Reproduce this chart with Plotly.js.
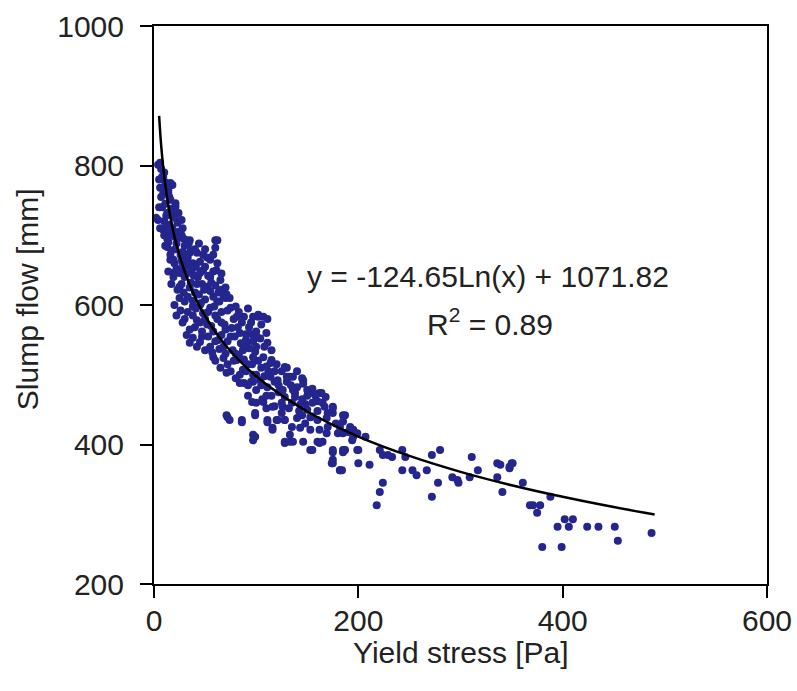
<!DOCTYPE html>
<html>
<head>
<meta charset="utf-8">
<script src="https://cdn.plot.ly/plotly-3.0.1.min.js"></script>
<style>html,body{margin:0;padding:0;background:#fff;}#chart{width:797px;height:691px;}</style>
</head>
<body>
<div id="chart"></div>
<script>
// Scatter data: yield stress [Pa] and slump flow [mm]
const yieldStress = [
  2,6,4,9,11,18,14,16,21,13,4,19,23,28,18,25,32,62,60,35,48,55,62,38,19,25,45,65,25,52,68,
  8,16,14,21,9,23,35,60,13,42,16,28,48,55,19,
  7,10,12,9,15,11,17,12,20,24,15,27,8,6,
  12,15,20,27,14,22,30,17,26,33,40,45,30,37,22,43,50,58,30,36,47,27,55,40,60,33,50,66,45,30,
  38,55,62,70,48,60,72,80,42,52,66,78,88,58,70,82,95,47,63,75,90,100,30,35,55,68,85,97,102,107,
  74,97,102,81,101,111,91,87,99,107,115,128,133,146,156,164,167,175,187,182,195,72,86,99,111,120,128,116,99,128,133,155,162,175,185,174,182,
  45,35,38,58,68,81,65,87,97,104,121,111,126,138,114,97,87,136,145,150,
  70,78,92,105,118,84,95,108,122,130,100,115,128,140,150,135,118,148,160,106,92,88,75,142,155,125,110,
  71,84,97,114,130,136,151,162,96,107,116,126,143,155,165,175,71,74,86,99,111,121,128,145,153,160,169,185,116,143,153,162,169,180,97,97,133,128,136,146,160,165,190,194,153,175,185,199,175,182,199,
  175,185,195,185,207,187,200,221,224,229,233,243,246,175,184,200,211,224,221,218,243,253,257,267,272,280,278,272,292,297,298,309,311,317,336,336,341,348,350,361,368,
  339,348,351,388,371,378,375,402,410,395,406,424,435,451,454,380,399,487,
  10,13,18,24,29,34,11,16,21,28,36,44,50,20,27,34,41,52,58,14,19,26,32,39,46,53,61,66,17,23,29,35,42,49,56,63,70,25,38,44,58,64,71,
  20,26,33,41,46,53,59,66,75,83,92,22,28,38,45,50,56,62,69,76,86,93,105,111,32,40,47,53,60,66,72,79,84,90,96,104,110,42,50,57,64,77,83,93,100,108,115,60,72,
  80,88,96,102,110,120,125,90,100,112,130,140,80,92,118,134,146,155,105,110,122,138,145,158,168,100,125,132,150,160,170,140,148,178,135,192,170,
  5,7,5,10,6
];
const slumpFlow = [
  725,804,801,784,776,772,765,751,741,732,722,729,718,710,703,697,693,693,682,675,672,665,660,660,665,646,646,636,626,626,614,
  784,775,761,746,708,703,693,693,683,675,665,660,650,640,646,
  795,790,770,760,755,745,738,728,725,732,715,722,740,768,
  712,705,698,700,690,688,685,678,672,668,680,662,655,650,652,640,655,648,640,632,630,630,620,618,628,612,608,622,600,605,
  598,596,605,610,588,585,592,598,578,572,575,580,583,562,565,568,575,555,550,555,558,562,580,565,540,540,545,548,586,583,
  610,583,583,583,554,546,547,535,533,525,521,511,497,492,474,474,454,454,442,425,421,439,435,442,435,435,435,424,411,402,404,392,402,389,389,373,363,
  547,546,553,525,524,521,510,507,500,492,492,482,478,474,517,525,543,497,495,478,
  530,520,515,510,505,500,490,498,485,490,478,470,468,482,470,460,455,458,462,465,470,488,505,448,440,445,452,
  503,488,490,497,497,478,474,474,461,461,454,454,457,460,460,452,442,435,432,445,432,435,435,442,439,435,438,442,421,424,421,421,416,416,414,406,414,404,404,404,404,404,418,406,392,392,392,392,378,363,416,
  445,433,411,416,411,392,392,392,385,385,382,392,382,373,363,373,371,345,332,313,363,363,356,363,385,392,345,325,353,349,345,353,382,363,373,353,332,366,373,345,313,
  371,368,373,325,313,313,302,293,293,282,282,282,282,282,262,253,253,273,
  700,695,710,705,695,688,685,672,680,676,678,688,680,660,665,658,655,668,672,648,640,650,645,642,648,642,650,645,630,622,618,625,630,622,632,618,625,610,606,615,612,605,615,
  600,592,590,595,603,590,598,590,596,590,595,585,575,585,575,580,570,580,572,567,575,568,572,580,557,568,562,555,548,557,548,555,560,550,558,552,560,540,535,532,537,535,528,538,540,540,535,520,515,
  530,522,515,520,512,515,505,505,500,505,510,505,495,485,490,485,487,480,485,470,475,468,465,470,468,460,460,452,450,448,445,438,430,430,425,425,425,
  780,755,740,720,710
];
// Logarithmic trend line as drawn: y = -124.65 Ln(x) + 1071.82
const trendX = [5,7,10,15,20,30,40,50,70,100,150,200,250,300,350,400,450,490];
const trendY = [871.2,829.3,784.8,734.3,698.4,647.9,612.0,584.2,542.2,497.8,447.3,411.4,383.6,360.8,341.6,325.0,310.3,299.7];
const xTicks = [0,200,400,600];
const yTicks = [200,400,600,800,1000];
const equationText = 'y = -124.65Ln(x) + 1071.82';
const r2Text = 'R<sup>2</sup> = 0.89';
const xTitle = 'Yield stress [Pa]';
const yTitle = 'Slump flow [mm]';

const FONT = 'Liberation Sans, Arial, sans-serif';
const TXT = '#222222';

const traces = [
  {
    x: yieldStress, y: slumpFlow, type: 'scatter', mode: 'markers',
    marker: {symbol: 'circle', size: 8, color: '#25258e'},
    hoverinfo: 'x+y', showlegend: false
  },
  {
    x: trendX, y: trendY, type: 'scatter', mode: 'lines',
    line: {color: '#000000', width: 2.5, shape: 'spline'},
    hoverinfo: 'skip', showlegend: false
  }
];

const layout = {
  width: 797, height: 691,
  margin: {l: 154, r: 30, t: 26, b: 107, pad: 0},
  paper_bgcolor: '#ffffff', plot_bgcolor: '#ffffff',
  font: {family: FONT, size: 30, color: TXT},
  showlegend: false,
  xaxis: {
    range: [0, 600], tickvals: xTicks, ticktext: xTicks.map(String),
    ticks: 'outside', ticklen: 12, tickwidth: 2, tickcolor: '#000',
    showline: true, linewidth: 2, linecolor: '#000', mirror: true,
    showgrid: false, zeroline: false,
    tickfont: {family: FONT, size: 30, color: TXT},
    ticklabelstandoff: -3,
    automargin: false, fixedrange: true
  },
  yaxis: {
    range: [200, 1000], tickvals: yTicks, ticktext: yTicks.map(String),
    ticks: 'outside', ticklen: 12, tickwidth: 2, tickcolor: '#000',
    showline: true, linewidth: 2, linecolor: '#000', mirror: true,
    showgrid: false, zeroline: false,
    tickfont: {family: FONT, size: 30, color: TXT},
    ticklabelstandoff: 10,
    automargin: false, fixedrange: true
  },
  annotations: [
    {x: 327, y: 641, xref: 'x', yref: 'y', text: equationText, showarrow: false,
     font: {family: FONT, size: 30, color: TXT}, xanchor: 'center', yanchor: 'middle'},
    {x: 329, y: 576, xref: 'x', yref: 'y', text: r2Text, showarrow: false,
     font: {family: FONT, size: 30, color: TXT}, xanchor: 'center', yanchor: 'middle'},
    {x: 0.5, y: -0.122, xref: 'paper', yref: 'paper', text: xTitle, showarrow: false,
     font: {family: FONT, size: 30, color: TXT}, xanchor: 'center', yanchor: 'middle'},
    {x: -0.206, y: 0.51, xref: 'paper', yref: 'paper', text: yTitle, showarrow: false, textangle: -90,
     font: {family: FONT, size: 30, color: TXT}, xanchor: 'center', yanchor: 'middle'}
  ]
};

Plotly.newPlot('chart', traces, layout, {displayModeBar: false, staticPlot: true});
</script>
</body>
</html>
